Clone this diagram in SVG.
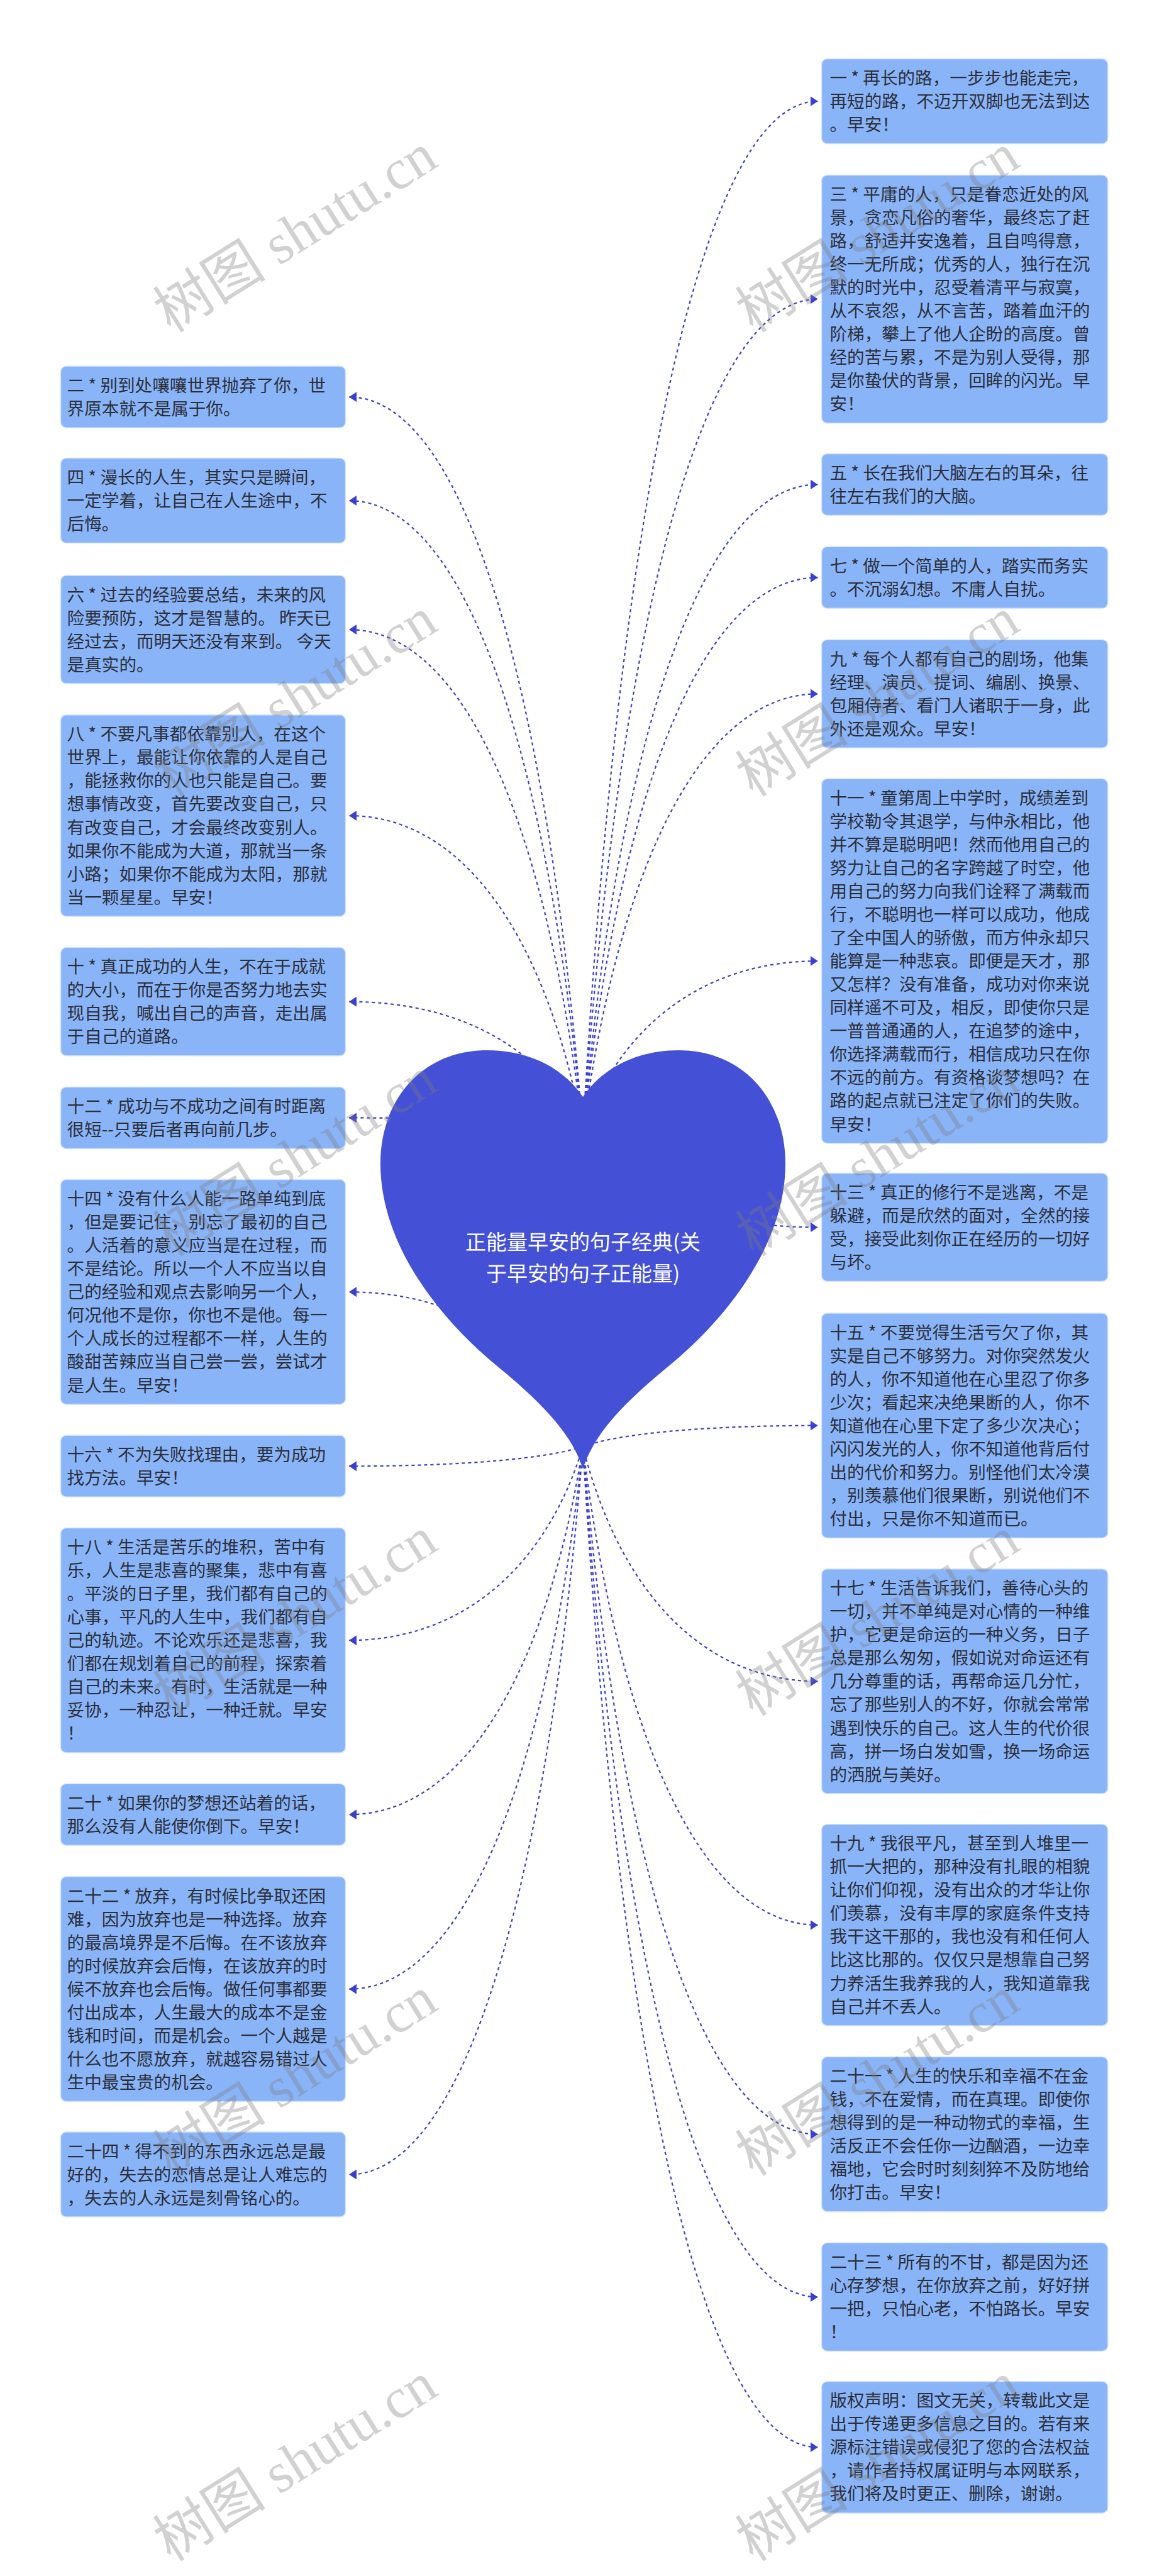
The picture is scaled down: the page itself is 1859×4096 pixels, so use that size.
<svg xmlns="http://www.w3.org/2000/svg" width="1859" height="4096" viewBox="0 0 1859 4096">
<style>
.box{fill:#8ab4f8;stroke:#d4e3fd;stroke-width:1.5}
.t{font-family:"Noto Sans CJK SC","Noto Sans",sans-serif;font-size:27.6px;fill:#2b2f3a}
.c{fill:none;stroke:#3b3fcf;stroke-width:2.2;stroke-dasharray:5 5}
.wm{font-family:"Liberation Serif","Noto Sans CJK SC",serif;font-size:90px;fill:#7a7a7a;fill-opacity:0.35}
.ht{font-family:"Noto Sans CJK SC","Noto Sans",sans-serif;font-size:33px;fill:#ffffff;text-anchor:middle}
</style>
<defs>
<marker id="ar" markerUnits="userSpaceOnUse" viewBox="0 0 12 16" refX="12" refY="8" markerWidth="12" markerHeight="16" orient="auto">
<path d="M0,0 L12,8 L0,16 z" fill="#3b3fcf"/>
</marker>
</defs>
<rect width="1859" height="4096" fill="#ffffff"/>
<g id="connectors">
<path class="c" marker-end="url(#ar)" d="M927,1800 C871.2,1098.7 741,631.2 555,631.2"/>
<path class="c" marker-end="url(#ar)" d="M927,1800 C871.2,1197.7 741,796.1 555,796.1"/>
<path class="c" marker-end="url(#ar)" d="M927,1800 C871.2,1320.7 741,1001.1 555,1001.1"/>
<path class="c" marker-end="url(#ar)" d="M927,1800 C871.2,1498.2 741,1297 555,1297"/>
<path class="c" marker-end="url(#ar)" d="M927,1800 C871.2,1675.6 741,1592.7 555,1592.7"/>
<path class="c" marker-end="url(#ar)" d="M927,1800 C871.2,1786.4 741,1777.4 555,1777.4"/>
<path class="c" marker-end="url(#ar)" d="M927,2300 C871.2,2152.6 741,2054.3 555,2054.3"/>
<path class="c" marker-end="url(#ar)" d="M927,2300 C871.2,2318.8 741,2331.3 555,2331.3"/>
<path class="c" marker-end="url(#ar)" d="M927,2300 C871.2,2484.9 741,2608.2 555,2608.2"/>
<path class="c" marker-end="url(#ar)" d="M927,2300 C871.2,2651.1 741,2885.2 555,2885.2"/>
<path class="c" marker-end="url(#ar)" d="M927,2300 C871.2,2817.7 741,3162.8 555,3162.8"/>
<path class="c" marker-end="url(#ar)" d="M927,2300 C871.2,2994.6 741,3457.6 555,3457.6"/>
<path class="c" marker-end="url(#ar)" d="M927,1800 C983,816.6 1113.8,161 1300.6,161"/>
<path class="c" marker-end="url(#ar)" d="M927,1800 C983,1005.4 1113.8,475.6 1300.6,475.6"/>
<path class="c" marker-end="url(#ar)" d="M927,1800 C983,1182.2 1113.8,770.4 1300.6,770.4"/>
<path class="c" marker-end="url(#ar)" d="M927,1800 C983,1271 1113.8,918.3 1300.6,918.3"/>
<path class="c" marker-end="url(#ar)" d="M927,1800 C983,1382 1113.8,1103.3 1300.6,1103.3"/>
<path class="c" marker-end="url(#ar)" d="M927,1800 C983,1636.9 1113.8,1528.1 1300.6,1528.1"/>
<path class="c" marker-end="url(#ar)" d="M927,1800 C983,1890.9 1113.8,1951.5 1300.6,1951.5"/>
<path class="c" marker-end="url(#ar)" d="M927,2300 C983,2280 1113.8,2266.7 1300.6,2266.7"/>
<path class="c" marker-end="url(#ar)" d="M927,2300 C983,2524 1113.8,2673.4 1300.6,2673.4"/>
<path class="c" marker-end="url(#ar)" d="M927,2300 C983,2756.5 1113.8,3060.9 1300.6,3060.9"/>
<path class="c" marker-end="url(#ar)" d="M927,2300 C983,2956.2 1113.8,3393.6 1300.6,3393.6"/>
<path class="c" marker-end="url(#ar)" d="M927,2300 C983,3111.4 1113.8,3652.4 1300.6,3652.4"/>
<path class="c" marker-end="url(#ar)" d="M927,2300 C983,3254.8 1113.8,3891.3 1300.6,3891.3"/>
</g>
<g id="center">
<path d="M927,1744 C890,1690 830,1670 775,1670 C670,1670 605,1750 605,1850 C605,1980 700,2100 800,2180 C860,2230 910,2280 927,2336 C944,2280 994,2230 1054,2180 C1154,2100 1249,1980 1249,1850 C1249,1750 1184,1670 1079,1670 C1024,1670 964,1690 927,1744 Z" fill="#4450d6"/>
<text class="ht" x="927" y="1987">正能量早安的句子经典(关</text>
<text class="ht" x="927" y="2037">于早安的句子正能量)</text>
</g>
<g id="n2"><rect class="box" x="96.4" y="582.2" width="453.1" height="98" rx="9"/>
<text class="t" x="106.6" y="622.7"><tspan x="106.6">二 * 别到处嚷嚷世界抛弃了你，世</tspan><tspan x="106.6" dy="37.05">界原本就不是属于你。</tspan></text></g>
<g id="n4"><rect class="box" x="96.4" y="728.6" width="453.1" height="135" rx="9"/>
<text class="t" x="106.6" y="769.1"><tspan x="106.6">四 * 漫长的人生，其实只是瞬间，</tspan><tspan x="106.6" dy="37.05">一定学着，让自己在人生途中，不</tspan><tspan x="106.6" dy="37.05">后悔。</tspan></text></g>
<g id="n6"><rect class="box" x="96.4" y="915" width="453.1" height="172.1" rx="9"/>
<text class="t" x="106.6" y="955.5"><tspan x="106.6">六 * 过去的经验要总结，未来的风</tspan><tspan x="106.6" dy="37.05">险要预防，这才是智慧的。 昨天已</tspan><tspan x="106.6" dy="37.05">经过去，而明天还没有来到。 今天</tspan><tspan x="106.6" dy="37.05">是真实的。</tspan></text></g>
<g id="n8"><rect class="box" x="96.4" y="1136.8" width="453.1" height="320.3" rx="9"/>
<text class="t" x="106.6" y="1177.3"><tspan x="106.6">八 * 不要凡事都依靠别人，在这个</tspan><tspan x="106.6" dy="37.05">世界上，最能让你依靠的人是自己</tspan><tspan x="106.6" dy="37.05">，能拯救你的人也只能是自己。要</tspan><tspan x="106.6" dy="37.05">想事情改变，首先要改变自己，只</tspan><tspan x="106.6" dy="37.05">有改变自己，才会最终改变别人。</tspan><tspan x="106.6" dy="37.05">如果你不能成为大道，那就当一条</tspan><tspan x="106.6" dy="37.05">小路；如果你不能成为太阳，那就</tspan><tspan x="106.6" dy="37.05">当一颗星星。早安！</tspan></text></g>
<g id="n10"><rect class="box" x="96.4" y="1506.6" width="453.1" height="172.1" rx="9"/>
<text class="t" x="106.6" y="1547.1"><tspan x="106.6">十 * 真正成功的人生，不在于成就</tspan><tspan x="106.6" dy="37.05">的大小，而在于你是否努力地去实</tspan><tspan x="106.6" dy="37.05">现自我，喊出自己的声音，走出属</tspan><tspan x="106.6" dy="37.05">于自己的道路。</tspan></text></g>
<g id="n12"><rect class="box" x="96.4" y="1728.4" width="453.1" height="98" rx="9"/>
<text class="t" x="106.6" y="1768.9"><tspan x="106.6">十二 * 成功与不成功之间有时距离</tspan><tspan x="106.6" dy="37.05">很短--只要后者再向前几步。</tspan></text></g>
<g id="n14"><rect class="box" x="96.4" y="1875.6" width="453.1" height="357.4" rx="9"/>
<text class="t" x="106.6" y="1916.1"><tspan x="106.6">十四 * 没有什么人能一路单纯到底</tspan><tspan x="106.6" dy="37.05">，但是要记住，别忘了最初的自己</tspan><tspan x="106.6" dy="37.05">。人活着的意义应当是在过程，而</tspan><tspan x="106.6" dy="37.05">不是结论。所以一个人不应当以自</tspan><tspan x="106.6" dy="37.05">己的经验和观点去影响另一个人，</tspan><tspan x="106.6" dy="37.05">何况他不是你，你也不是他。每一</tspan><tspan x="106.6" dy="37.05">个人成长的过程都不一样，人生的</tspan><tspan x="106.6" dy="37.05">酸甜苦辣应当自己尝一尝，尝试才</tspan><tspan x="106.6" dy="37.05">是人生。早安！</tspan></text></g>
<g id="n16"><rect class="box" x="96.4" y="2282.3" width="453.1" height="98" rx="9"/>
<text class="t" x="106.6" y="2322.8"><tspan x="106.6">十六 * 不为失败找理由，要为成功</tspan><tspan x="106.6" dy="37.05">找方法。早安！</tspan></text></g>
<g id="n18"><rect class="box" x="96.4" y="2429.5" width="453.1" height="357.4" rx="9"/>
<text class="t" x="106.6" y="2470"><tspan x="106.6">十八 * 生活是苦乐的堆积，苦中有</tspan><tspan x="106.6" dy="37.05">乐，人生是悲喜的聚集，悲中有喜</tspan><tspan x="106.6" dy="37.05">。平淡的日子里，我们都有自己的</tspan><tspan x="106.6" dy="37.05">心事，平凡的人生中，我们都有自</tspan><tspan x="106.6" dy="37.05">己的轨迹。不论欢乐还是悲喜，我</tspan><tspan x="106.6" dy="37.05">们都在规划着自己的前程，探索着</tspan><tspan x="106.6" dy="37.05">自己的未来。有时，生活就是一种</tspan><tspan x="106.6" dy="37.05">妥协，一种忍让，一种迁就。早安</tspan><tspan x="106.6" dy="37.05">！</tspan></text></g>
<g id="n20"><rect class="box" x="96.4" y="2836.2" width="453.1" height="98" rx="9"/>
<text class="t" x="106.6" y="2876.7"><tspan x="106.6">二十 * 如果你的梦想还站着的话，</tspan><tspan x="106.6" dy="37.05">那么没有人能使你倒下。早安！</tspan></text></g>
<g id="n22"><rect class="box" x="96.4" y="2984.1" width="453.1" height="357.4" rx="9"/>
<text class="t" x="106.6" y="3024.6"><tspan x="106.6">二十二 * 放弃，有时候比争取还困</tspan><tspan x="106.6" dy="37.05">难，因为放弃也是一种选择。放弃</tspan><tspan x="106.6" dy="37.05">的最高境界是不后悔。在不该放弃</tspan><tspan x="106.6" dy="37.05">的时候放弃会后悔，在该放弃的时</tspan><tspan x="106.6" dy="37.05">候不放弃也会后悔。做任何事都要</tspan><tspan x="106.6" dy="37.05">付出成本，人生最大的成本不是金</tspan><tspan x="106.6" dy="37.05">钱和时间，而是机会。一个人越是</tspan><tspan x="106.6" dy="37.05">什么也不愿放弃，就越容易错过人</tspan><tspan x="106.6" dy="37.05">生中最宝贵的机会。</tspan></text></g>
<g id="n24"><rect class="box" x="96.4" y="3390.1" width="453.1" height="135" rx="9"/>
<text class="t" x="106.6" y="3430.6"><tspan x="106.6">二十四 * 得不到的东西永远总是最</tspan><tspan x="106.6" dy="37.05">好的，失去的恋情总是让人难忘的</tspan><tspan x="106.6" dy="37.05">，失去的人永远是刻骨铭心的。</tspan></text></g>
<g id="n1"><rect class="box" x="1306.5" y="93.5" width="455.3" height="135" rx="9"/>
<text class="t" x="1319.5" y="134"><tspan x="1319.5">一 * 再长的路，一步步也能走完，</tspan><tspan x="1319.5" dy="37.05">再短的路，不迈开双脚也无法到达</tspan><tspan x="1319.5" dy="37.05">。早安！</tspan></text></g>
<g id="n3"><rect class="box" x="1306.5" y="278.4" width="455.3" height="394.4" rx="9"/>
<text class="t" x="1319.5" y="318.9"><tspan x="1319.5">三 * 平庸的人，只是眷恋近处的风</tspan><tspan x="1319.5" dy="37.05">景，贪恋凡俗的奢华，最终忘了赶</tspan><tspan x="1319.5" dy="37.05">路，舒适并安逸着，且自鸣得意，</tspan><tspan x="1319.5" dy="37.05">终一无所成；优秀的人，独行在沉</tspan><tspan x="1319.5" dy="37.05">默的时光中，忍受着清平与寂寞，</tspan><tspan x="1319.5" dy="37.05">从不哀怨，从不言苦，踏着血汗的</tspan><tspan x="1319.5" dy="37.05">阶梯，攀上了他人企盼的高度。曾</tspan><tspan x="1319.5" dy="37.05">经的苦与累，不是为别人受得，那</tspan><tspan x="1319.5" dy="37.05">是你蛰伏的背景，回眸的闪光。早</tspan><tspan x="1319.5" dy="37.05">安！</tspan></text></g>
<g id="n5"><rect class="box" x="1306.5" y="721.4" width="455.3" height="98" rx="9"/>
<text class="t" x="1319.5" y="761.9"><tspan x="1319.5">五 * 长在我们大脑左右的耳朵，往</tspan><tspan x="1319.5" dy="37.05">往左右我们的大脑。</tspan></text></g>
<g id="n7"><rect class="box" x="1306.5" y="869.3" width="455.3" height="98" rx="9"/>
<text class="t" x="1319.5" y="909.8"><tspan x="1319.5">七 * 做一个简单的人，踏实而务实</tspan><tspan x="1319.5" dy="37.05">。不沉溺幻想。不庸人自扰。</tspan></text></g>
<g id="n9"><rect class="box" x="1306.5" y="1017.2" width="455.3" height="172.1" rx="9"/>
<text class="t" x="1319.5" y="1057.7"><tspan x="1319.5">九 * 每个人都有自己的剧场，他集</tspan><tspan x="1319.5" dy="37.05">经理、演员、提词、编剧、换景、</tspan><tspan x="1319.5" dy="37.05">包厢侍者、看门人诸职于一身，此</tspan><tspan x="1319.5" dy="37.05">外还是观众。早安！</tspan></text></g>
<g id="n11"><rect class="box" x="1306.5" y="1238.3" width="455.3" height="579.7" rx="9"/>
<text class="t" x="1319.5" y="1278.8"><tspan x="1319.5">十一 * 童第周上中学时，成绩差到</tspan><tspan x="1319.5" dy="37.05">学校勒令其退学，与仲永相比，他</tspan><tspan x="1319.5" dy="37.05">并不算是聪明吧！然而他用自己的</tspan><tspan x="1319.5" dy="37.05">努力让自己的名字跨越了时空，他</tspan><tspan x="1319.5" dy="37.05">用自己的努力向我们诠释了满载而</tspan><tspan x="1319.5" dy="37.05">行，不聪明也一样可以成功，他成</tspan><tspan x="1319.5" dy="37.05">了全中国人的骄傲，而方仲永却只</tspan><tspan x="1319.5" dy="37.05">能算是一种悲哀。即便是天才，那</tspan><tspan x="1319.5" dy="37.05">又怎样？没有准备，成功对你来说</tspan><tspan x="1319.5" dy="37.05">同样遥不可及，相反，即使你只是</tspan><tspan x="1319.5" dy="37.05">一普普通通的人，在追梦的途中，</tspan><tspan x="1319.5" dy="37.05">你选择满载而行，相信成功只在你</tspan><tspan x="1319.5" dy="37.05">不远的前方。有资格谈梦想吗？在</tspan><tspan x="1319.5" dy="37.05">路的起点就已注定了你们的失败。</tspan><tspan x="1319.5" dy="37.05">早安！</tspan></text></g>
<g id="n13"><rect class="box" x="1306.5" y="1865.4" width="455.3" height="172.1" rx="9"/>
<text class="t" x="1319.5" y="1905.9"><tspan x="1319.5">十三 * 真正的修行不是逃离，不是</tspan><tspan x="1319.5" dy="37.05">躲避，而是欣然的面对，全然的接</tspan><tspan x="1319.5" dy="37.05">受，接受此刻你正在经历的一切好</tspan><tspan x="1319.5" dy="37.05">与坏。</tspan></text></g>
<g id="n15"><rect class="box" x="1306.5" y="2088" width="455.3" height="357.4" rx="9"/>
<text class="t" x="1319.5" y="2128.5"><tspan x="1319.5">十五 * 不要觉得生活亏欠了你，其</tspan><tspan x="1319.5" dy="37.05">实是自己不够努力。对你突然发火</tspan><tspan x="1319.5" dy="37.05">的人，你不知道他在心里忍了你多</tspan><tspan x="1319.5" dy="37.05">少次；看起来决绝果断的人，你不</tspan><tspan x="1319.5" dy="37.05">知道他在心里下定了多少次决心；</tspan><tspan x="1319.5" dy="37.05">闪闪发光的人，你不知道他背后付</tspan><tspan x="1319.5" dy="37.05">出的代价和努力。别怪他们太冷漠</tspan><tspan x="1319.5" dy="37.05">，别羡慕他们很果断，别说他们不</tspan><tspan x="1319.5" dy="37.05">付出，只是你不知道而已。</tspan></text></g>
<g id="n17"><rect class="box" x="1306.5" y="2494.7" width="455.3" height="357.4" rx="9"/>
<text class="t" x="1319.5" y="2535.2"><tspan x="1319.5">十七 * 生活告诉我们，善待心头的</tspan><tspan x="1319.5" dy="37.05">一切，并不单纯是对心情的一种维</tspan><tspan x="1319.5" dy="37.05">护，它更是命运的一种义务，日子</tspan><tspan x="1319.5" dy="37.05">总是那么匆匆，假如说对命运还有</tspan><tspan x="1319.5" dy="37.05">几分尊重的话，再帮命运几分忙，</tspan><tspan x="1319.5" dy="37.05">忘了那些别人的不好，你就会常常</tspan><tspan x="1319.5" dy="37.05">遇到快乐的自己。这人生的代价很</tspan><tspan x="1319.5" dy="37.05">高，拼一场白发如雪，换一场命运</tspan><tspan x="1319.5" dy="37.05">的洒脱与美好。</tspan></text></g>
<g id="n19"><rect class="box" x="1306.5" y="2900.7" width="455.3" height="320.3" rx="9"/>
<text class="t" x="1319.5" y="2941.2"><tspan x="1319.5">十九 * 我很平凡，甚至到人堆里一</tspan><tspan x="1319.5" dy="37.05">抓一大把的，那种没有扎眼的相貌</tspan><tspan x="1319.5" dy="37.05">让你们仰视，没有出众的才华让你</tspan><tspan x="1319.5" dy="37.05">们羡慕，没有丰厚的家庭条件支持</tspan><tspan x="1319.5" dy="37.05">我干这干那的，我也没有和任何人</tspan><tspan x="1319.5" dy="37.05">比这比那的。仅仅只是想靠自己努</tspan><tspan x="1319.5" dy="37.05">力养活生我养我的人，我知道靠我</tspan><tspan x="1319.5" dy="37.05">自己并不丢人。</tspan></text></g>
<g id="n21"><rect class="box" x="1306.5" y="3270.5" width="455.3" height="246.2" rx="9"/>
<text class="t" x="1319.5" y="3311"><tspan x="1319.5">二十一 * 人生的快乐和幸福不在金</tspan><tspan x="1319.5" dy="37.05">钱，不在爱情，而在真理。即使你</tspan><tspan x="1319.5" dy="37.05">想得到的是一种动物式的幸福，生</tspan><tspan x="1319.5" dy="37.05">活反正不会任你一边酗酒，一边幸</tspan><tspan x="1319.5" dy="37.05">福地，它会时时刻刻猝不及防地给</tspan><tspan x="1319.5" dy="37.05">你打击。早安！</tspan></text></g>
<g id="n23"><rect class="box" x="1306.5" y="3566.3" width="455.3" height="172.1" rx="9"/>
<text class="t" x="1319.5" y="3606.8"><tspan x="1319.5">二十三 * 所有的不甘，都是因为还</tspan><tspan x="1319.5" dy="37.05">心存梦想，在你放弃之前，好好拼</tspan><tspan x="1319.5" dy="37.05">一把，只怕心老，不怕路长。早安</tspan><tspan x="1319.5" dy="37.05">！</tspan></text></g>
<g id="copyright"><rect class="box" x="1306.5" y="3786.7" width="455.3" height="209.2" rx="9"/>
<text class="t" x="1319.5" y="3827.2"><tspan x="1319.5">版权声明：图文无关，转载此文是</tspan><tspan x="1319.5" dy="37.05">出于传递更多信息之目的。若有来</tspan><tspan x="1319.5" dy="37.05">源标注错误或侵犯了您的合法权益</tspan><tspan x="1319.5" dy="37.05">，请作者持权属证明与本网联系，</tspan><tspan x="1319.5" dy="37.05">我们将及时更正、删除，谢谢。</tspan></text></g>
<g id="watermarks">
<text class="wm" text-anchor="middle" transform="translate(470,371) rotate(-32)" y="30">树图 shutu.cn</text>
<text class="wm" text-anchor="middle" transform="translate(1396,371) rotate(-32)" y="30">树图 shutu.cn</text>
<text class="wm" text-anchor="middle" transform="translate(470,1109) rotate(-32)" y="30">树图 shutu.cn</text>
<text class="wm" text-anchor="middle" transform="translate(1396,1109) rotate(-32)" y="30">树图 shutu.cn</text>
<text class="wm" text-anchor="middle" transform="translate(470,1840) rotate(-32)" y="30">树图 shutu.cn</text>
<text class="wm" text-anchor="middle" transform="translate(1396,1840) rotate(-32)" y="30">树图 shutu.cn</text>
<text class="wm" text-anchor="middle" transform="translate(470,2571) rotate(-32)" y="30">树图 shutu.cn</text>
<text class="wm" text-anchor="middle" transform="translate(1396,2571) rotate(-32)" y="30">树图 shutu.cn</text>
<text class="wm" text-anchor="middle" transform="translate(470,3302) rotate(-32)" y="30">树图 shutu.cn</text>
<text class="wm" text-anchor="middle" transform="translate(1396,3302) rotate(-32)" y="30">树图 shutu.cn</text>
<text class="wm" text-anchor="middle" transform="translate(470,3915) rotate(-32)" y="30">树图 shutu.cn</text>
<text class="wm" text-anchor="middle" transform="translate(1396,3915) rotate(-32)" y="30">树图 shutu.cn</text>
</g>
</svg>
